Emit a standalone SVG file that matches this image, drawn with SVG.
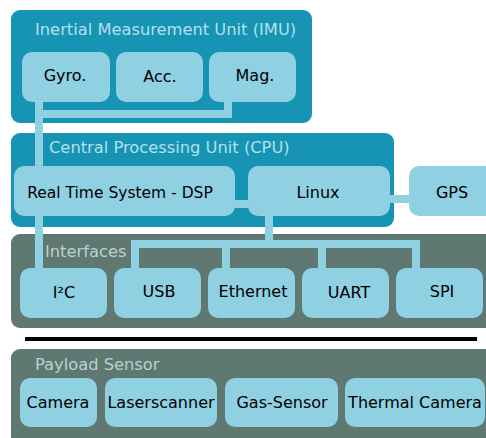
<svg xmlns="http://www.w3.org/2000/svg" width="486" height="438" viewBox="0 0 486 438">
<style>
.blue{fill:#1793b4}
.gray{fill:#5f7872}
.node{fill:#8fd0e2}
.t{font-family:"DejaVu Sans",sans-serif;font-size:16px;fill:#000;text-anchor:middle}
.h{font-family:"DejaVu Sans",sans-serif;font-size:16.3px}
.hb{fill:#b3e0ec}
.hg{fill:#b9d2ce}
.c{stroke:#8fd0e2;stroke-width:8;fill:none}
</style>
<rect width="486" height="438" fill="#fff"/>
<g id="imu">
<rect class="blue" x="11" y="10" width="301" height="113" rx="9"/>
<text class="h hb" x="35" y="35">Inertial Measurement Unit (IMU)</text>
</g>
<g id="cpu">
<rect class="blue" x="11" y="133" width="383" height="94" rx="9"/>
<text class="h hb" x="49" y="153">Central Processing Unit (CPU)</text>
</g>
<g id="interfaces">
<rect class="gray" x="11" y="234" width="485" height="94" rx="9"/>
<text class="h hg" x="45" y="257">Interfaces</text>
</g>
<g id="payload">
<rect class="gray" x="11" y="349" width="485" height="100" rx="9"/>
<text class="h hg" x="35" y="370">Payload Sensor</text>
</g>
<g id="connectors">
<path class="c" d="M39 102V268M39 114H228V102"/>
<path class="c" d="M235 204H248M390 199H409"/>
<path class="c" d="M269 216V244M135 268V244H416V268M226 244V268M322 244V268"/>
<line x1="25" y1="339" x2="477" y2="339" stroke="#000" stroke-width="4"/>
</g>
<g id="gyro"><rect class="node" x="22" y="52" width="88" height="50" rx="10"/><text class="t" x="65" y="81">Gyro.</text></g>
<g id="acc"><rect class="node" x="116" y="52" width="87" height="50" rx="10"/><text class="t" x="160" y="82">Acc.</text></g>
<g id="mag"><rect class="node" x="209" y="52" width="87" height="50" rx="10"/><text class="t" x="255" y="81">Mag.</text></g>
<g id="rts"><rect class="node" x="14" y="166" width="221" height="50" rx="10"/><text class="t" x="120" y="198" style="font-size:15.5px">Real Time System - DSP</text></g>
<g id="linux"><rect class="node" x="248" y="166" width="142" height="50" rx="10"/><text class="t" x="318" y="198">Linux</text></g>
<g id="gps"><rect class="node" x="409" y="166" width="90" height="50" rx="10"/><text class="t" x="452" y="198">GPS</text></g>
<g id="i2c"><rect class="node" x="20" y="268" width="87" height="50" rx="10"/><text class="t" x="64" y="298">I²C</text></g>
<g id="usb"><rect class="node" x="114" y="268" width="87" height="50" rx="10"/><text class="t" x="159" y="297">USB</text></g>
<g id="ethernet"><rect class="node" x="208" y="268" width="87" height="50" rx="10"/><text class="t" x="253" y="297">Ethernet</text></g>
<g id="uart"><rect class="node" x="302" y="268" width="87" height="50" rx="10"/><text class="t" x="349" y="298">UART</text></g>
<g id="spi"><rect class="node" x="396" y="268" width="87" height="50" rx="10"/><text class="t" x="442" y="297">SPI</text></g>
<g id="camera"><rect class="node" x="20" y="378" width="77" height="49" rx="10"/><text class="t" x="58" y="408">Camera</text></g>
<g id="laserscanner"><rect class="node" x="105" y="378" width="112" height="49" rx="10"/><text class="t" x="161" y="408">Laserscanner</text></g>
<g id="gassensor"><rect class="node" x="225" y="378" width="113" height="49" rx="10"/><text class="t" x="282" y="408">Gas-Sensor</text></g>
<g id="thermal"><rect class="node" x="345" y="378" width="140" height="49" rx="10"/><text class="t" x="415" y="408">Thermal Camera</text></g>
</svg>
